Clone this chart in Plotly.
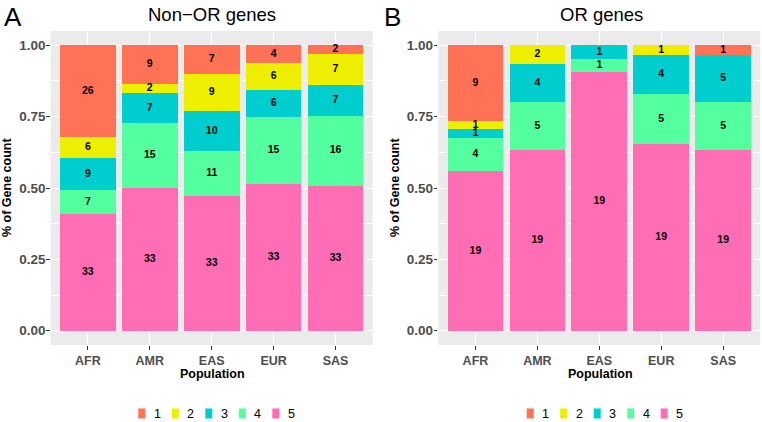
import plotly.graph_objects as go
from plotly.subplots import make_subplots

populations = ["AFR", "AMR", "EAS", "EUR", "SAS"]
classes = ["1", "2", "3", "4", "5"]

# Non-OR genes counts per class
nonor_1 = [26, 9, 7, 4, 2]
nonor_2 = [6, 2, 9, 6, 7]
nonor_3 = [9, 7, 10, 6, 7]
nonor_4 = [7, 15, 11, 15, 16]
nonor_5 = [33, 33, 33, 33, 33]

# OR genes counts per class
or_1 = [9, 0, 0, 0, 1]
or_2 = [1, 2, 0, 1, 0]
or_3 = [1, 4, 1, 4, 5]
or_4 = [4, 5, 1, 5, 5]
or_5 = [19, 19, 19, 19, 19]

colors = {"1": "#FF7256", "2": "#EEEE00", "3": "#00CDCD", "4": "#54FF9F", "5": "#FF6EB4"}

W, H = 762, 422
FONT = "Liberation Sans"

fig = make_subplots(rows=1, cols=2)


def add_panel(counts, col):
    totals = [sum(v) for v in zip(*[counts[c] for c in classes])]
    base = [0.0] * len(populations)
    # stack from class 5 (bottom) to class 1 (top)
    for c in reversed(classes):
        props = [v / t for v, t in zip(counts[c], totals)]
        fig.add_trace(go.Bar(
            x=populations, y=props, name=c, marker_color=colors[c],
            marker_line_width=0, width=0.9, showlegend=False, hoverinfo="skip",
        ), row=1, col=col)
        mids = [b + p / 2 for b, p in zip(base, props)]
        txt_x = [x for x, v in zip(populations, counts[c]) if v > 0]
        txt_y = [m for m, v in zip(mids, counts[c]) if v > 0]
        txt = [str(v) for v in counts[c] if v > 0]
        fig.add_trace(go.Scatter(
            x=txt_x, y=txt_y, text=txt, mode="text", showlegend=False,
            textfont=dict(family=FONT, size=10.5, color="black", weight="bold"),
            hoverinfo="skip", cliponaxis=False,
        ), row=1, col=col)
        base = [b + p for b, p in zip(base, props)]


add_panel({"1": nonor_1, "2": nonor_2, "3": nonor_3, "4": nonor_4, "5": nonor_5}, 1)
add_panel({"1": or_1, "2": or_2, "3": or_3, "4": or_4, "5": or_5}, 2)

ydom = [(H - 345) / H, (H - 31) / H]
xdomA = [50.7 / W, 372.7 / W]
xdomB = [438.3 / W, 760.3 / W]

axis_common_y = dict(
    range=[-0.05, 1.05], tickvals=[0, 0.25, 0.5, 0.75, 1.0],
    ticktext=["0.00", "0.25", "0.50", "0.75", "1.00"],
    showgrid=True, gridcolor="white", gridwidth=1.1, zeroline=False,
    ticks="outside", ticklen=3.5, tickcolor="#333333", tickwidth=1,
    ticklabelstandoff=-2,
    tickfont=dict(family=FONT, size=13.5, color="#4D4D4D", weight="bold"),
    minor=dict(tickvals=[0.125, 0.375, 0.625, 0.875], showgrid=True,
               gridcolor="white", gridwidth=0.55, ticks=""),
    showline=False, domain=ydom,
)
axis_common_x = dict(
    range=[-0.6, 4.6], showgrid=True, gridcolor="white", gridwidth=1.1,
    zeroline=False, ticks="outside", ticklen=3.5, tickcolor="#333333", tickwidth=1,
    tickfont=dict(family=FONT, size=12.5, color="#4D4D4D", weight="bold"),
    showline=False, type="category",
)

fig.update_layout(
    width=W, height=H, margin=dict(l=0, r=0, t=0, b=0),
    paper_bgcolor="white", plot_bgcolor="#EBEBEB",
    barmode="stack", bargap=0.1,
    font=dict(family=FONT, color="black"),
    xaxis=dict(axis_common_x, domain=xdomA),
    xaxis2=dict(axis_common_x, domain=xdomB),
    yaxis=dict(axis_common_y),
    yaxis2=dict(axis_common_y),
    showlegend=False,
)

annotations = [
    dict(text="A", x=2 / W, y=(H - 17) / H, xanchor="left", yanchor="middle",
         font=dict(family=FONT, size=26, color="black")),
    dict(text="B", x=382 / W, y=(H - 17) / H, xanchor="left", yanchor="middle",
         font=dict(family=FONT, size=26, color="black")),
    dict(text="Non\u2212OR genes", x=212 / W, y=(H - 14) / H, xanchor="center", yanchor="middle",
         font=dict(family=FONT, size=18.5, color="black")),
    dict(text="OR genes", x=601 / W, y=(H - 14) / H, xanchor="center", yanchor="middle",
         font=dict(family=FONT, size=18.5, color="black")),
    dict(text="% of Gene count", x=7 / W, y=(H - 188) / H, xanchor="center", yanchor="middle",
         textangle=-90, font=dict(family=FONT, size=12.5, color="black", weight="bold")),
    dict(text="% of Gene count", x=395 / W, y=(H - 188) / H, xanchor="center", yanchor="middle",
         textangle=-90, font=dict(family=FONT, size=12.5, color="black", weight="bold")),
    dict(text="Population", x=212 / W, y=(H - 374) / H, xanchor="center", yanchor="middle",
         font=dict(family=FONT, size=12.5, color="black", weight="bold")),
    dict(text="Population", x=600 / W, y=(H - 374) / H, xanchor="center", yanchor="middle",
         font=dict(family=FONT, size=12.5, color="black", weight="bold")),
]

# Legends (one under each panel), drawn as key rectangles + labels
shapes = []
legend_starts = [138.3, 526.7]
key_step = 33.5
for x0 in legend_starts:
    for i, c in enumerate(classes):
        kx = x0 + i * key_step
        shapes.append(dict(type="rect", xref="paper", yref="paper",
                           x0=kx / W, x1=(kx + 7) / W,
                           y0=(H - 418.5) / H, y1=(H - 408.5) / H,
                           fillcolor=colors[c], line_width=0))
        annotations.append(dict(text=c, x=(kx + 19) / W, y=(H - 413.5) / H,
                                xanchor="center", yanchor="middle",
                                font=dict(family=FONT, size=12.5, color="black")))

for a in annotations:
    a.update(xref="paper", yref="paper", showarrow=False)
fig.update_layout(annotations=annotations, shapes=shapes)

fig.write_html("out.html", config={"displayModeBar": False},
               post_script="document.body.style.margin='0';document.body.style.overflow='hidden';")
